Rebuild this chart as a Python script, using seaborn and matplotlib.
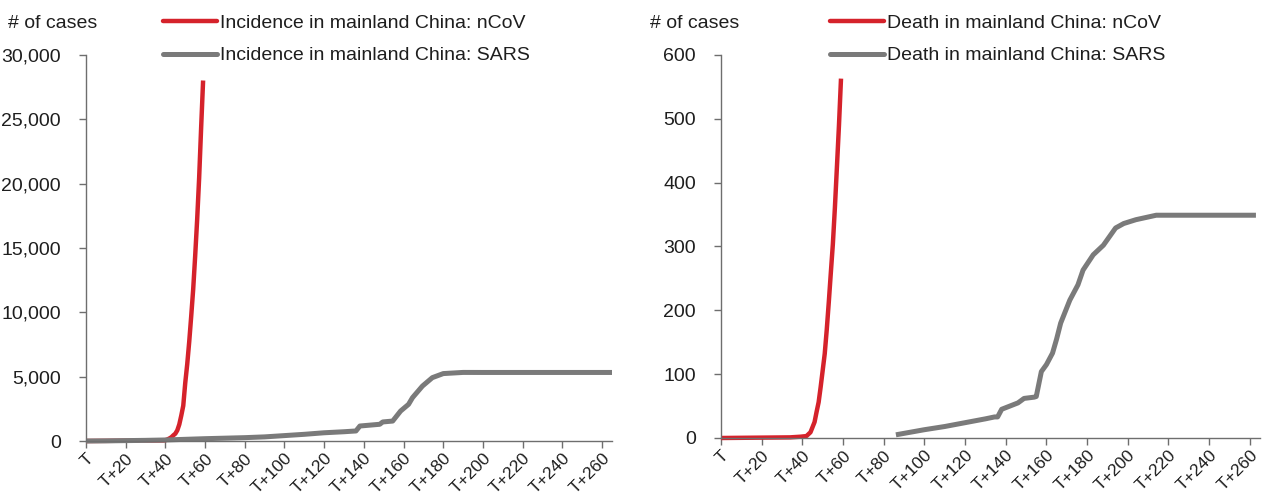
import matplotlib
matplotlib.use("Agg")
import matplotlib.pyplot as plt
import seaborn as sns
from matplotlib.lines import Line2D

# day offsets from T (first case) and cumulative values
ncov_case_day = [0, 23, 26, 28, 33, 39, 40, 41, 42, 43, 44, 45, 46, 47, 48, 49,
                 50, 51, 52, 53, 54, 55, 56, 57, 58, 59]
ncov_case_val = [0, 27, 44, 59, 41, 45, 62, 121, 198, 291, 440, 571, 830, 1287,
                 1975, 2744, 4515, 5974, 7711, 9692, 11791, 14380, 17205, 20438,
                 24324, 28018]

sars_case_day = [0, 10, 20, 30, 40, 50, 60, 70, 80, 90, 100, 110, 120, 130, 136,
                 138, 148, 149.5, 154.5, 158.5, 162.5, 164.5, 169.5, 174.5, 180,
                 190, 200, 265]
sars_case_val = [0, 10, 30, 50, 80, 130, 180, 220, 260, 320, 420, 520, 640, 720,
                 780, 1165, 1300, 1480, 1550, 2330, 2850, 3370, 4270, 4925, 5240,
                 5330, 5327, 5327]

ncov_death_day = [0, 34, 39, 42, 43, 44, 45, 46, 47, 48, 49, 50, 51, 52, 53, 54,
                  55, 56, 57, 58, 59]
ncov_death_val = [0, 1, 2, 3, 6, 9, 17, 25, 41, 56, 80, 106, 132, 170, 213, 259,
                  304, 361, 425, 490, 563]

sars_death_day = [86, 100, 110, 120, 130, 134.5, 136, 138, 142, 146, 149, 154,
                  155, 157.5, 160, 163, 165, 167, 171.5, 175.5, 178, 183, 188,
                  194, 198, 204, 214, 220, 263]
sars_death_val = [5, 13, 18, 24, 30, 33, 33, 45, 50, 55, 62, 64, 65, 104, 115,
                  133, 155, 180, 216, 240, 263, 287, 302, 329, 336, 342, 349,
                  349, 349]

x_ticks = list(range(0, 261, 20))
x_labels = ["T"] + [f"T+{t}" for t in x_ticks[1:]]

RED = "#d5222b"
GREY = "#7a7a7a"
AXIS = "#6e6e6e"
TEXT = "#1e1e1e"
FS = 14
FS_X = 12.5

sns.set_theme(style="white")
plt.rcParams["font.family"] = ["Liberation Sans", "DejaVu Sans"]

fig = plt.figure(figsize=(12.63, 4.97), dpi=100)
ax1 = fig.add_axes([86 / 1263, 1 - 441 / 497, 526 / 1263, 386 / 497])
ax2 = fig.add_axes([721 / 1263, 1 - 438 / 497, 539 / 1263, 383 / 497])


def style_axis(ax, ymax, step, fmt):
    ax.set_xlim(0, 265)
    ax.set_ylim(0, ymax)
    ax.set_xticks(x_ticks)
    ax.set_xticklabels(x_labels, rotation=45, ha="right", va="top",
                       rotation_mode="anchor", fontsize=FS_X, color=TEXT)
    yt = list(range(0, ymax + 1, step))
    ax.set_yticks(yt)
    ax.set_yticklabels([fmt(v) for v in yt], fontsize=FS, color=TEXT)
    for side in ("top", "right"):
        ax.spines[side].set_visible(False)
    for side in ("left", "bottom"):
        ax.spines[side].set_color(AXIS)
        ax.spines[side].set_linewidth(1.0)
    ax.tick_params(axis="x", direction="out", length=5, width=1, color=AXIS,
                   pad=2, bottom=True)
    ax.tick_params(axis="y", direction="out", length=5, width=1, color=AXIS,
                   pad=13, left=True)
    ax.set_xlabel("")
    ax.set_ylabel("")
    ax.grid(False)


sns.lineplot(x=ncov_case_day, y=ncov_case_val, color=RED, linewidth=3.2, ax=ax1)
sns.lineplot(x=sars_case_day, y=sars_case_val, color=GREY, linewidth=3.6, ax=ax1)
style_axis(ax1, 30000, 5000, lambda v: f"{v:,}")

sns.lineplot(x=ncov_death_day, y=ncov_death_val, color=RED, linewidth=3.2, ax=ax2)
sns.lineplot(x=sars_death_day, y=sars_death_val, color=GREY, linewidth=3.6, ax=ax2)
style_axis(ax2, 600, 100, lambda v: f"{v}")

for ax in (ax1, ax2):
    for line in ax.get_lines():
        line.set_clip_on(False)
        line.set_solid_capstyle("butt")

fig.text(8 / 1263, 1 - 23 / 497, "# of cases", fontsize=FS, color=TEXT,
         va="center", ha="left")
fig.text(650 / 1263, 1 - 23 / 497, "# of cases", fontsize=FS, color=TEXT,
         va="center", ha="left")

legend_sets = [
    (163, ["Incidence in mainland China: nCoV", "Incidence in mainland China: SARS"]),
    (830, ["Death in mainland China: nCoV", "Death in mainland China: SARS"]),
]
for x0, labels in legend_sets:
    handles = [Line2D([], [], color=RED, linewidth=3.2),
               Line2D([], [], color=GREY, linewidth=3.6)]
    leg = fig.legend(handles, labels, loc="upper left",
                     bbox_to_anchor=(x0 / 1263, 1 - 14 / 497),
                     frameon=False, fontsize=FS, handlelength=2.8,
                     handletextpad=0.15, labelspacing=0.78, borderpad=0,
                     borderaxespad=0)
    for t in leg.get_texts():
        t.set_color(TEXT)

fig.savefig("out.png", dpi=100)
